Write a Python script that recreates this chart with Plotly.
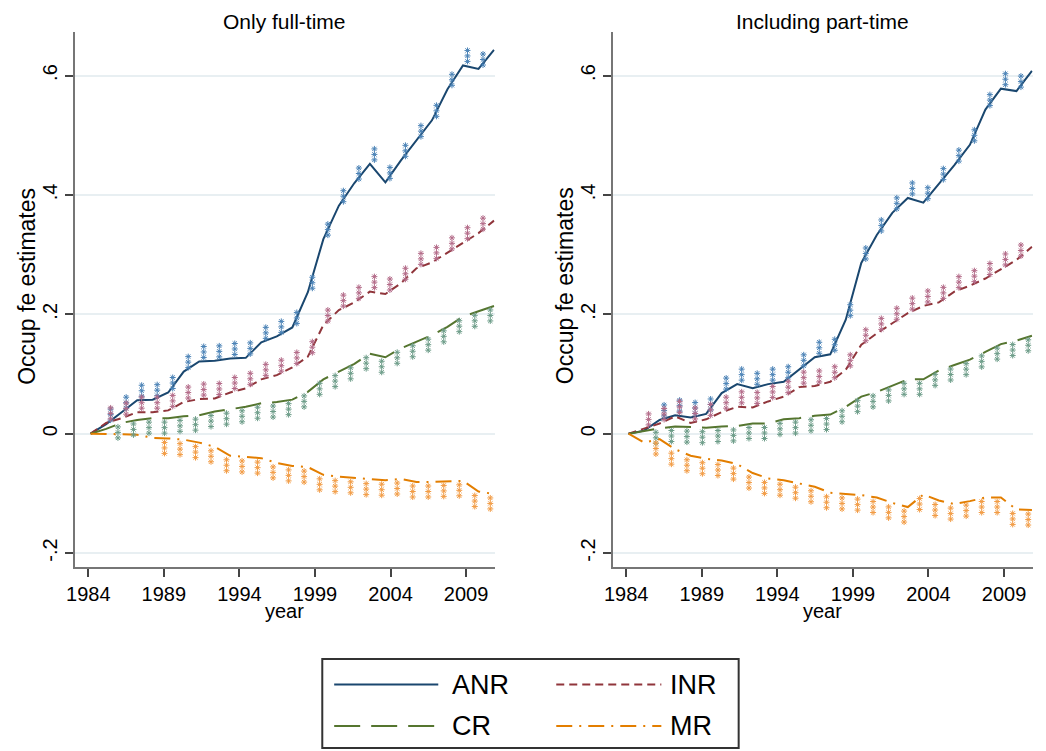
import plotly.graph_objects as go

# ---------------- data ----------------
YEARS = [1984, 1985, 1986, 1987, 1988, 1989, 1990, 1991, 1992, 1993, 1994, 1995, 1996,
         1997, 1998, 1999, 2000, 2001, 2002, 2003, 2004, 2005, 2006, 2007, 2008, 2009, 2010]

PANEL_TITLES = ["Only full-time", "Including part-time"]
SERIES = ["ANR", "INR", "CR", "MR"]
TICK_LABELS = ["1984", "1989", "1994", "1999", "2004", "2009"]
Y_TICKS = [-0.2, 0, 0.2, 0.4, 0.6]
Y_TICK_LABELS = ["-.2", "0", ".2", ".4", ".6"]

# Only full-time
ANR_FT = [0, 0.016, 0.036, 0.056, 0.057, 0.069, 0.104, 0.121, 0.122, 0.126, 0.127, 0.153, 0.163,
          0.178, 0.237, 0.326, 0.382, 0.420, 0.452, 0.421, 0.458, 0.491, 0.525, 0.577, 0.617, 0.611, 0.643]
INR_FT = [0, 0.018, 0.026, 0.036, 0.036, 0.039, 0.053, 0.058, 0.059, 0.069, 0.076, 0.091, 0.098,
          0.111, 0.129, 0.182, 0.207, 0.220, 0.238, 0.234, 0.252, 0.277, 0.287, 0.303, 0.320, 0.336, 0.357]
CR_FT = [0, 0.008, 0.018, 0.023, 0.026, 0.026, 0.029, 0.031, 0.037, 0.041, 0.045, 0.051, 0.053,
         0.057, 0.070, 0.091, 0.104, 0.117, 0.134, 0.128, 0.143, 0.154, 0.165, 0.179, 0.196, 0.205, 0.214]
MR_FT = [0, 0.000, -0.001, -0.002, -0.007, -0.008, -0.010, -0.015, -0.022, -0.037, -0.039, -0.041, -0.049,
         -0.054, -0.056, -0.069, -0.072, -0.074, -0.077, -0.078, -0.076, -0.081, -0.081, -0.080, -0.079, -0.097, -0.101]

# Including part-time
ANR_PT = [0, 0.005, 0.023, 0.031, 0.027, 0.033, 0.068, 0.083, 0.076, 0.083, 0.087, 0.107, 0.128,
          0.133, 0.191, 0.286, 0.333, 0.370, 0.395, 0.387, 0.419, 0.450, 0.484, 0.543, 0.578, 0.574, 0.608]
INR_PT = [0, 0.008, 0.017, 0.029, 0.018, 0.024, 0.036, 0.045, 0.044, 0.054, 0.062, 0.078, 0.080,
          0.087, 0.107, 0.149, 0.168, 0.185, 0.202, 0.214, 0.220, 0.238, 0.248, 0.260, 0.276, 0.291, 0.313]
CR_PT = [0, 0.005, 0.009, 0.012, 0.011, 0.010, 0.012, 0.013, 0.017, 0.017, 0.024, 0.026, 0.030,
         0.032, 0.045, 0.062, 0.070, 0.080, 0.091, 0.091, 0.106, 0.115, 0.124, 0.137, 0.150, 0.156, 0.164]
MR_PT = [0, -0.015, -0.009, -0.026, -0.037, -0.042, -0.045, -0.051, -0.066, -0.075, -0.078, -0.083, -0.089,
         -0.099, -0.101, -0.103, -0.107, -0.116, -0.123, -0.102, -0.112, -0.118, -0.113, -0.107, -0.107, -0.127, -0.128]

# significance labels
S, N = "***", ""
STARS_ANR_FT = [N, S, S, S, S, S, S, S, S, S, S, S, S, S, S, S, S, S, S, S, S, S, S, S, S, S, S]
STARS_INR_FT = [N, S, S, S, S, S, S, S, S, S, S, S, S, S, S, S, S, S, S, S, S, S, S, S, S, S, S]
STARS_CR_FT = [N, N, S, S, S, S, S, S, S, S, S, S, S, S, S, S, S, S, S, S, S, S, S, S, S, S, S]
STARS_MR_FT = [N, N, N, N, N, S, S, S, S, S, S, S, S, S, S, S, S, S, S, S, S, S, S, S, S, S, S]
STARS_ANR_PT = [N, N, S, S, S, S, S, S, S, S, S, S, S, S, S, S, S, S, S, S, S, S, S, S, S, S, S]
STARS_INR_PT = [N, S, S, S, S, S, S, S, S, S, S, S, S, S, S, S, S, S, S, S, S, S, S, S, S, S, S]
STARS_CR_PT = [N, N, S, S, S, S, S, S, S, S, S, S, S, S, S, S, S, S, S, S, S, S, S, S, S, S, S]
STARS_MR_PT = [N, N, S, S, S, S, S, S, S, S, S, S, S, S, S, S, S, S, S, S, S, S, S, S, S, S, S]

PANEL_DATA = [
    {"ANR": (ANR_FT, STARS_ANR_FT), "INR": (INR_FT, STARS_INR_FT),
     "CR": (CR_FT, STARS_CR_FT), "MR": (MR_FT, STARS_MR_FT)},
    {"ANR": (ANR_PT, STARS_ANR_PT), "INR": (INR_PT, STARS_INR_PT),
     "CR": (CR_PT, STARS_CR_PT), "MR": (MR_PT, STARS_MR_PT)},
]

# ---------------- style ----------------
W, H = 1046, 751
FONT = "Liberation Sans, Arial, sans-serif"
COLORS = {"ANR": "#1a476f", "INR": "#90353b", "CR": "#55752f", "MR": "#e37e00"}
DASH = {"ANR": "solid", "INR": "8px,5px", "CR": "26px,11px", "MR": "16px,7px,2px,7px"}
STAR_COLORS = {"ANR": "#4a82b6", "INR": "#b36a88", "CR": "#6c9c88", "MR": "#f29c45"}
STAR_ABOVE = {"ANR": True, "INR": True, "CR": False, "MR": False}

X_RANGE = [1983.0, 2010.05]
Y_RANGE = [-0.2234, 0.673]
X_DOMAINS = [[66.7 / W, 490.0 / W], [609.3 / W, 1032.6 / W]]
Y_DOMAIN = [1 - 567.0 / H, 1 - 32.0 / H]
TICK_POS = [YEARS[0] - 0.15 + 4.87 * k for k in range(len(TICK_LABELS))]


def px(xp):
    return xp / W


def py(yp):
    return 1 - yp / H


fig = go.Figure()

for p, series in enumerate(PANEL_DATA):
    xa = "x" if p == 0 else "x2"
    ya = "y" if p == 0 else "y2"
    for name in SERIES:
        vals, stars = series[name]
        fig.add_trace(go.Scatter(
            x=YEARS, y=vals, mode="lines", name=name, showlegend=False,
            line=dict(color=COLORS[name], width=2, dash=DASH[name]),
            xaxis=xa, yaxis=ya, hoverinfo="skip"))
    for name in SERIES:
        vals, stars = series[name]
        above = STAR_ABOVE[name]
        sign = 1 if above else -1
        dx = 0.29 if above else -0.24
        sx, sy = [], []
        for yr, v, s in zip(YEARS, vals, stars):
            for k in range(len(s)):
                sx.append(yr + dx)
                sy.append(v + sign * (0.0067 + k * 0.0092))
        fig.add_trace(go.Scatter(
            x=sx, y=sy, mode="markers", showlegend=False, cliponaxis=False,
            marker=dict(symbol="asterisk-open", size=5, color=STAR_COLORS[name],
                        line=dict(color=STAR_COLORS[name], width=1)),
            xaxis=xa, yaxis=ya, hoverinfo="skip"))

axis_common = dict(showline=True, linecolor="#767676", linewidth=2, ticks="outside",
                   ticklen=8, tickwidth=1.5, tickcolor="#444",
                   tickfont=dict(family=FONT, size=20, color="#000"), zeroline=False)

for p in range(2):
    sfx = "" if p == 0 else "2"
    fig.update_layout(**{
        "xaxis" + sfx: dict(domain=X_DOMAINS[p], range=X_RANGE, tickmode="array",
                            tickvals=TICK_POS, ticktext=TICK_LABELS, showgrid=False,
                            anchor="y" + sfx, **axis_common),
        "yaxis" + sfx: dict(domain=Y_DOMAIN, range=Y_RANGE, tickmode="array",
                            tickvals=Y_TICKS, ticktext=Y_TICK_LABELS, tickangle=-90,
                            showgrid=True, gridcolor="#e8eff2", gridwidth=2,
                            anchor="x" + sfx, **axis_common),
    })

annotations = []
centers = [(66.7 + 490.0) / 2, (609.3 + 1032.6) / 2]
ytitle_x = [18, 561]
for p in range(2):
    annotations.append(dict(text=PANEL_TITLES[p], x=px(centers[p]), y=py(21), xref="paper", yref="paper",
                            showarrow=False, xanchor="center", yanchor="middle",
                            font=dict(family=FONT, size=21, color="#000")))
    annotations.append(dict(text="year", x=px(centers[p]), y=py(611), xref="paper", yref="paper",
                            showarrow=False, xanchor="center", yanchor="middle",
                            font=dict(family=FONT, size=20, color="#000")))
    annotations.append(dict(text="Occup fe estimates", x=px(ytitle_x[p]), y=py(286), xref="paper",
                            yref="paper", showarrow=False, textangle=-90, xanchor="center",
                            yanchor="middle", font=dict(family=FONT, size=23, color="#000")))

# ---------------- legend (drawn on its own axis) ----------------
LEG_L, LEG_R, LEG_T, LEG_B = 316, 736, 659, 748
fig.update_layout(
    xaxis3=dict(domain=[px(LEG_L), px(LEG_R)], range=[0, 1], visible=False, anchor="y3", fixedrange=True),
    yaxis3=dict(domain=[py(LEG_B), py(LEG_T)], range=[0, 1], visible=False, anchor="x3", fixedrange=True),
)
leg_layout = {"ANR": (0, 0), "INR": (1, 0), "CR": (0, 1), "MR": (1, 1)}
col_line = [(328, 433), (552, 658)]
col_text = [445, 665]
row_y = [684.5, 726.0]
for name in SERIES:
    c, r = leg_layout[name]
    x0, x1 = col_line[c]
    yy = (LEG_B - row_y[r]) / (LEG_B - LEG_T)
    fig.add_trace(go.Scatter(
        x=[(x0 - LEG_L) / (LEG_R - LEG_L), (x1 - LEG_L) / (LEG_R - LEG_L)], y=[yy, yy],
        mode="lines", showlegend=False, hoverinfo="skip", xaxis="x3", yaxis="y3",
        line=dict(color=COLORS[name], width=2, dash=DASH[name])))
    annotations.append(dict(text=name, x=px(col_text[c]), y=py(row_y[r]), xref="paper", yref="paper",
                            showarrow=False, xanchor="left", yanchor="middle",
                            font=dict(family=FONT, size=27, color="#000")))

fig.update_layout(
    width=W, height=H, margin=dict(l=0, r=0, t=0, b=0),
    paper_bgcolor="white", plot_bgcolor="white",
    annotations=annotations,
    shapes=[dict(type="rect", xref="paper", yref="paper", x0=px(LEG_L), x1=px(LEG_R),
                 y0=py(LEG_B), y1=py(LEG_T), line=dict(color="#333", width=2), fillcolor="rgba(0,0,0,0)")],
    showlegend=False,
)

fig.write_html("out.html")
